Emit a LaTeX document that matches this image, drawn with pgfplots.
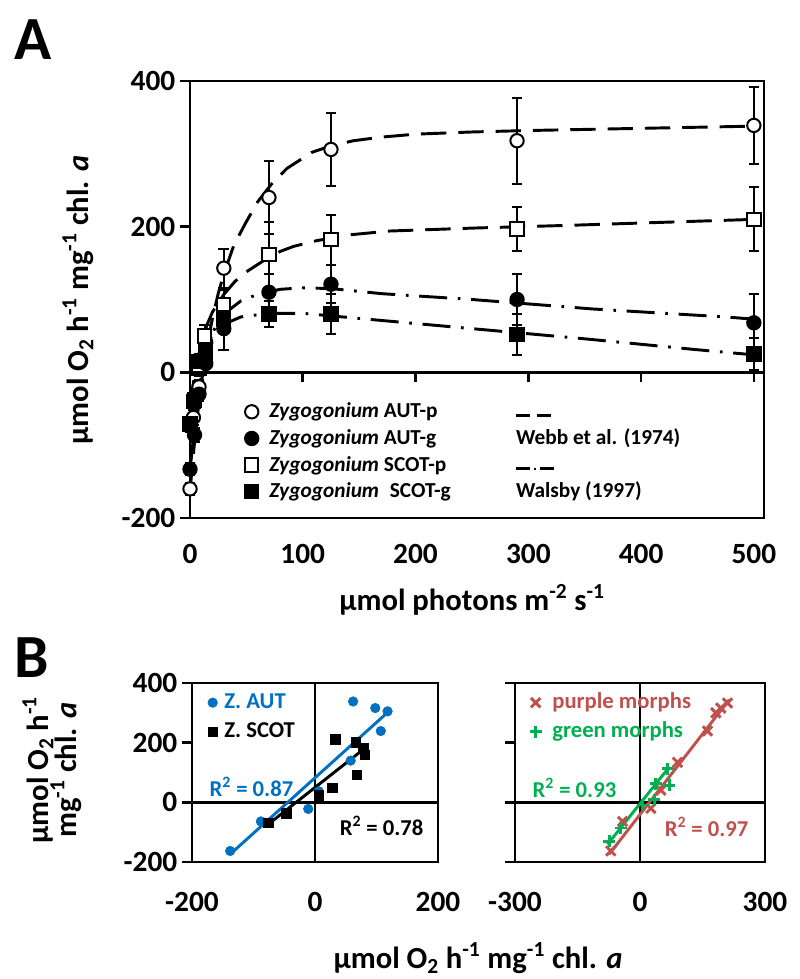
\documentclass[border=0pt]{standalone}
\usepackage{pgfplots}
\pgfplotsset{compat=1.18}
\usepackage{fontspec}
\setmainfont{Carlito}
\definecolor{zblue}{RGB}{0,112,192}
\definecolor{zred}{RGB}{192,80,77}
\definecolor{zgreen}{RGB}{0,176,80}
\newcommand{\tfont}{\fontsize{22}{24}\selectfont\bfseries}
\newcommand{\labfont}{\fontsize{23}{25}\selectfont\bfseries}
\newcommand{\lfont}{\fontsize{16}{18}\selectfont\bfseries}
\newcommand{\dashA}{\rule[0.05em]{10.5pt}{2pt}\hspace{5pt}\rule[0.05em]{10.5pt}{2pt}}
\newcommand{\dashB}{\rule[0.05em]{10.5pt}{2pt}\hspace{3pt}\rule[0.05em]{1.8pt}{1.8pt}\hspace{3pt}\rule[0.05em]{10pt}{2pt}}
\pgfplotsset{
  mylegimg/.style={legend image code/.code={\draw[##1] plot coordinates {(0pt,0pt)}; \path[draw=none, fill=none] (-#1,-#1) rectangle (#1,#1);}},
  ebar/.style={forget plot, black, only marks, line width=1.5pt,
  error bars/.cd, y dir=both, y explicit,
  error bar style={line width=1.5pt, black},
  error mark options={rotate=90, mark size=4pt, line width=1.5pt, black}},
}
\begin{document}
\begin{tikzpicture}
\path[use as bounding box] (0,0) rectangle (600pt,734.25pt);

% ---------------- Panel A ----------------
\begin{axis}[
  at={(142.5pt,345.75pt)}, anchor=south west, scale only axis,
  width=430.5pt, height=327.75pt,
  xmin=0, xmax=509, ymin=-200, ymax=400,
  axis line style={line width=2pt},
  xtick={0,100,...,500}, ytick={-200,0,200,400},
  x tick style={draw=none},
  y tick style={line width=2pt, black},
  ytick pos=left, xtick pos=bottom,
  tick align=outside, major tick length=7.5pt,
  /pgf/number format/assume math mode=true,
  ticklabel style={font=\tfont},
  xticklabel style={yshift=-9pt},
  clip=false,
  mylegimg=6pt,
  legend style={at={(axis description cs:0.0936,0.272)}, anchor=north west,
    draw=none, fill=none, font=\lfont, inner sep=0pt, outer sep=0pt,
    row sep=1pt, column sep=6.25pt,
    nodes={inner sep=1pt, text height=13pt, text depth=4pt}},
  legend cell align=left,
]
% fitted curves
\addplot[forget plot, black, line width=2.2pt, dash pattern=on 19pt off 9pt] coordinates {
 (0,-163) (5,-80) (10,-15) (15,35) (20,75) (25,108) (30,135) (39,175) (50,207) (60,234)
 (72,258) (86,280) (108,302) (125,311) (145,318) (170,323) (200,327) (250,330) (300,332)
 (400,335) (500,338)};
\addplot[forget plot, black, line width=2.2pt, dash pattern=on 19pt off 9pt] coordinates {
 (0,-45) (5,5) (10,40) (15,65) (20,83) (30,107) (40,125) (50,138) (60,148) (70,158) (80,166)
 (92,173) (113,181) (143,189) (177,194) (250,198) (340,202) (420,206) (500,210)};
\addplot[forget plot, black, line width=2.2pt, dash pattern=on 21pt off 8pt on 2pt off 8pt] coordinates {
 (0,-135) (5,-60) (10,-5) (15,30) (20,55) (30,80) (45,98) (60,107) (80,114) (100,116) (125,115)
 (170,108) (250,100) (357,87) (475,76) (500,73)};
\addplot[forget plot, black, line width=2.2pt, dash pattern=on 21pt off 8pt on 2pt off 8pt] coordinates {
 (0,-75) (5,-20) (10,15) (15,38) (20,52) (30,66) (45,76) (70,81) (100,81) (150,74) (250,60)
 (350,46) (450,31) (500,24)};
% AUT-p
\addplot[mark=*, mark size=5pt, mark options={fill=white, solid}, ebar] table[x=x, y=y, y error=e] {
x y e
0 -160 8
3 -62 10
8 -20 10
14 41 12
30 143 27
70 240 50
125 306 50
290 318 59
500 339 53
};
% SCOT-p
\addplot[mark=square*, mark size=5pt, mark options={fill=white, solid}, ebar] table[x=x, y=y, y error=e] {
x y e
0 -72 10
4 -38 10
8 5 10
13 50 15
30 93 20
70 162 45
125 182 34
290 197 30
500 210 44
};
% AUT-g
\addplot[mark=*, mark size=5pt, mark options={fill=black, solid}, ebar] table[x=x, y=y, y error=e] {
x y e
0 -133 8
4 -86 10
8 -30 10
14 12 12
30 60 30
70 110 25
125 121 26
290 100 35
500 68 40
};
% SCOT-g
\addplot[mark=square*, mark size=5pt, mark options={fill=black, solid}, ebar] table[x=x, y=y, y error=e] {
x y e
0 -70 8
3 -40 10
8 15 10
14 28 12
30 73 15
70 80 18
125 80 27
290 52 28
500 25 22
};
\addlegendimage{black, mark=*, mark size=5pt, mark options={fill=white, line width=1.5pt}}
\addlegendentry{\makebox[185pt][l]{\textit{Zygogonium} AUT-p}\dashA}
\addlegendimage{black, mark=*, mark size=5pt, mark options={fill=black, line width=1.5pt}}
\addlegendentry{\makebox[185pt][l]{\textit{Zygogonium} AUT-g}Webb et al. (1974)}
\addlegendimage{black, mark=square*, mark size=5pt, mark options={fill=white, line width=1.5pt}}
\addlegendentry{\makebox[185pt][l]{\textit{Zygogonium} SCOT-p}\dashB}
\addlegendimage{black, mark=square*, mark size=5pt, mark options={fill=black, line width=1.5pt}}
\addlegendentry{\makebox[185pt][l]{\textit{Zygogonium}\enspace SCOT-g}Walsby (1997)}
\end{axis}
% zero line with ticks for panel A
\begin{axis}[
  at={(142.5pt,345.75pt)}, anchor=south west, scale only axis,
  width=430.5pt, height=327.75pt,
  xmin=0, xmax=509, ymin=-200, ymax=400,
  axis x line=middle, axis y line=none,
  x axis line style={-, line width=2pt},
  xtick={100,200,...,500}, xticklabels={},
  x tick style={line width=2pt, black},
  tick align=outside, major tick length=7.5pt,
]
\addplot[draw=none, forget plot] coordinates {(0,0)};
\end{axis}

% ---------------- Panel B left ----------------
\begin{axis}[
  at={(144pt,87.75pt)}, anchor=south west, scale only axis,
  width=184.5pt, height=134.25pt,
  xmin=-200, xmax=200, ymin=-200, ymax=400,
  axis line style={line width=2pt},
  xtick={-200,0,200}, ytick={-200,0,200,400},
  x tick style={draw=none},
  y tick style={line width=2pt, black},
  ytick pos=left, xtick pos=bottom,
  tick align=outside, major tick length=7.5pt,
  /pgf/number format/assume math mode=true,
  ticklabel style={font=\tfont},
  xticklabel style={yshift=-12pt},
  extra x ticks={0}, extra x tick labels={},
  extra y ticks={0}, extra y tick labels={},
  extra tick style={grid=major, major grid style={black, line width=2pt}},
  mylegimg=5pt,
  legend style={at={(axis description cs:0.057,0.961)}, anchor=north west,
    draw=none, fill=none, font=\fontsize{17}{19}\selectfont\bfseries,
    inner sep=0pt, outer sep=0pt, row sep=2.75pt, column sep=2.75pt,
    nodes={inner sep=1pt, text height=13pt, text depth=4pt}},
  legend cell align=left,
]
\addplot[zblue, line width=2.2pt, forget plot] coordinates {(-138,-174) (120,305)};
\addplot[black, line width=2.2pt, forget plot] coordinates {(-80,-80) (79,178)};
\addplot[only marks, zblue, mark=*, mark size=3.6pt] coordinates {
 (62,338) (98,316) (118,305) (107,239) (58,140) (6,37) (-11,-22) (-88,-64) (-138,-163)};
\addlegendentry{\textcolor{zblue}{Z. AUT}}
\addplot[only marks, black, mark=square*, mark size=3.6pt] coordinates {
 (33,212) (66,201) (78,181) (81,159) (68,93) (28,49) (6,24) (-47,-36) (-76,-69)};
\addlegendentry{Z. SCOT}
\end{axis}

% ---------------- Panel B right ----------------
\begin{axis}[
  at={(386.25pt,87.75pt)}, anchor=south west, scale only axis,
  width=187.5pt, height=134.25pt,
  xmin=-300, xmax=300, ymin=-200, ymax=400,
  axis line style={line width=2pt},
  xtick={-300,0,300}, ytick={-200,0,200,400}, yticklabels={},
  x tick style={draw=none},
  y tick style={line width=2pt, black},
  ytick pos=left, xtick pos=bottom,
  tick align=outside, major tick length=7.5pt,
  /pgf/number format/assume math mode=true,
  ticklabel style={font=\tfont},
  xticklabel style={yshift=-12pt},
  extra x ticks={0}, extra x tick labels={},
  extra y ticks={0}, extra y tick labels={},
  extra tick style={grid=major, major grid style={black, line width=2pt}},
  mylegimg=5pt,
  legend style={at={(axis description cs:0.056,0.961)}, anchor=north west,
    draw=none, fill=none, font=\fontsize{17}{19}\selectfont\bfseries,
    inner sep=0pt, outer sep=0pt, row sep=2.75pt, column sep=6.5pt,
    nodes={inner sep=1pt, text height=13pt, text depth=4pt}},
  legend cell align=left,
]
\addplot[zred, line width=2.2pt, forget plot] coordinates {(-74,-174) (214,344)};
\addplot[zgreen, line width=2.2pt, forget plot] coordinates {(-78,-141) (70,118)};
\addplot[only marks, zred, mark=x, mark size=5pt, line width=2.2pt] coordinates {
 (210,333) (194,316) (182,300) (162,239) (90,134) (50,41) (26,-20) (-42,-64) (-70,-163)};
\addlegendentry{\textcolor{zred}{purple morphs}}
\addplot[only marks, zgreen, mark=+, mark size=4.5pt, line width=2.2pt] coordinates {
 (66,112) (38,63) (70,57) (34,8) (6,-9) (-46,-86) (-74,-130)};
\addlegendentry{\textcolor{zgreen}{green morphs}}
\end{axis}

% ---------------- texts ----------------
\node[font=\fontsize{46}{46}\selectfont\bfseries] at (24.75pt,704.25pt) {A};
\node[font=\fontsize{46}{46}\selectfont\bfseries] at (24pt,240.75pt) {B};
\node[font=\labfont] at (354pt,284.25pt) {µmol photons m\textsuperscript{-2} s\textsuperscript{-1}};
\node[font=\labfont, rotate=90] at (58.5pt,509.25pt) {µmol O\textsubscript{2} h\textsuperscript{-1} mg\textsuperscript{-1} chl. \textit{a}};
\node[font=\labfont, rotate=90, align=center] at (39pt,156.75pt) {µmol O\textsubscript{2} h\textsuperscript{-1}\\[-4pt] mg\textsuperscript{-1} chl. \textit{a}};
\node[font=\labfont] at (358.5pt,16pt) {µmol O\textsubscript{2} h\textsuperscript{-1} mg\textsuperscript{-1} chl. \textit{a}};
\node[font=\fontsize{17}{19}\selectfont\bfseries, text=zblue, anchor=west] at (153.75pt,144pt) {R\textsuperscript{2} = 0.87};
\node[font=\fontsize{17}{19}\selectfont\bfseries, text=black, anchor=east] at (321pt,114.75pt) {R\textsuperscript{2} = 0.78};
\node[font=\fontsize{17}{19}\selectfont\bfseries, text=zgreen, anchor=west] at (396pt,143.25pt) {R\textsuperscript{2} = 0.93};
\node[font=\fontsize{17}{19}\selectfont\bfseries, text=zred, anchor=east] at (564.75pt,114pt) {R\textsuperscript{2} = 0.97};
\end{tikzpicture}
\end{document}
